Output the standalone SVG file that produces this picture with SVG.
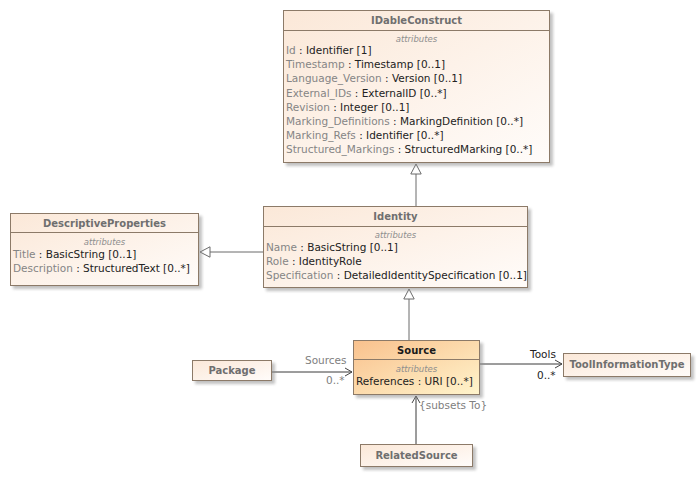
<svg xmlns="http://www.w3.org/2000/svg" width="700" height="478" viewBox="0 0 700 478">
  <defs>
    <linearGradient id="clsFill" x1="0" y1="0" x2="1" y2="1">
      <stop offset="0" stop-color="#fbe8d8"/>
      <stop offset="1" stop-color="#fffcfa"/>
    </linearGradient>
    <linearGradient id="srcFill" x1="0" y1="0" x2="1" y2="1">
      <stop offset="0" stop-color="#f9c18d"/>
      <stop offset="1" stop-color="#fff4cc"/>
    </linearGradient>
    <filter id="soft" x="-10%" y="-10%" width="120%" height="130%">
      <feGaussianBlur stdDeviation="1.4"/>
    </filter>
    <marker id="gen" viewBox="0 0 12 12" refX="11" refY="6" markerWidth="12" markerHeight="12" markerUnits="userSpaceOnUse" orient="auto">
      <path d="M1,0.8 L11,6 L1,11.2 Z" fill="#ffffff" stroke="#6b6b6b" stroke-width="1"/>
    </marker>
    <marker id="nav" viewBox="0 0 10 10" refX="9" refY="5" markerWidth="10" markerHeight="10" markerUnits="userSpaceOnUse" orient="auto">
      <path d="M2,1 L9,5 L2,9" fill="none" stroke="#444" stroke-width="1"/>
    </marker>
  </defs>
  <style>
    .shadow { fill: #8f8f8f; opacity: 0.55; filter: url(#soft); }
    .box { fill: url(#clsFill); stroke: #8c7a68; stroke-width: 1; }
    .src { fill: url(#srcFill); stroke: #8c7a68; stroke-width: 1; }
    .sep { stroke: #8c7a68; stroke-width: 1; }
    text { font-family: "DejaVu Sans", Verdana, sans-serif; }
    .title { font-size: 10px; font-weight: bold; fill: #6f6f6f; text-anchor: middle; }
    .stitle { font-size: 10px; font-weight: bold; fill: #1a1a1a; text-anchor: middle; }
    .sec { font-size: 8.5px; font-style: italic; fill: #8e8e8e; text-anchor: middle; }
    .attr { font-size: 10.5px; fill: #222; }
    .nm { fill: #858585; }
    .gline { fill: none; stroke: #6b6b6b; stroke-width: 1; }
    .aline { fill: none; stroke: #3a3a3a; stroke-width: 1; }
    .lbl { font-size: 10.5px; fill: #808080; }
    .lbld { font-size: 10.5px; fill: #222; }
  </style>

  <!-- connectors -->
  <g id="connectors">
    <line class="gline" x1="416" y1="206" x2="416" y2="164" marker-end="url(#gen)"/>
    <line class="gline" x1="263" y1="252" x2="200" y2="252" marker-end="url(#gen)"/>
    <line class="gline" x1="409" y1="340" x2="409" y2="289" marker-end="url(#gen)"/>
    <line class="aline" x1="272" y1="372" x2="352" y2="372" marker-end="url(#nav)"/>
    <text class="lbl" x="305" y="364">Sources</text>
    <text class="lbl" x="326" y="384">0..*</text>
    <line class="aline" x1="479" y1="364" x2="562" y2="364" marker-end="url(#nav)"/>
    <text class="lbld" x="530" y="358">Tools</text>
    <text class="lbld" x="537" y="379">0..*</text>
    <line class="aline" x1="416" y1="444" x2="416" y2="396" marker-end="url(#nav)"/>
    <text class="lbl" x="419" y="409">{subsets To}</text>
  </g>

  <!-- IDableConstruct -->
  <g id="IDableConstruct">
    <rect class="shadow" x="286" y="13" width="267" height="153"/>
    <rect class="box" x="283.5" y="10.5" width="266" height="152"/>
    <line class="sep" x1="283.5" y1="30.5" x2="549.5" y2="30.5"/>
    <text class="title" x="416.5" y="24">IDableConstruct</text>
    <text class="sec" x="416.5" y="42">attributes</text>
    <text class="attr" x="286" y="54"><tspan class="nm">Id</tspan> : Identifier [1]</text>
    <text class="attr" x="286" y="68.2"><tspan class="nm">Timestamp</tspan> : Timestamp [0..1]</text>
    <text class="attr" x="286" y="82.4"><tspan class="nm">Language_Version</tspan> : Version [0..1]</text>
    <text class="attr" x="286" y="96.6"><tspan class="nm">External_IDs</tspan> : ExternalID [0..*]</text>
    <text class="attr" x="286" y="110.8"><tspan class="nm">Revision</tspan> : Integer [0..1]</text>
    <text class="attr" x="286" y="125"><tspan class="nm">Marking_Definitions</tspan> : MarkingDefinition [0..*]</text>
    <text class="attr" x="286" y="139.2"><tspan class="nm">Marking_Refs</tspan> : Identifier [0..*]</text>
    <text class="attr" x="286" y="153.4"><tspan class="nm">Structured_Markings</tspan> : StructuredMarking [0..*]</text>
  </g>

  <!-- DescriptiveProperties -->
  <g id="DescriptiveProperties">
    <rect class="shadow" x="13" y="216" width="189" height="73"/>
    <rect class="box" x="10.5" y="213.5" width="188" height="72"/>
    <line class="sep" x1="10.5" y1="232.5" x2="198.5" y2="232.5"/>
    <text class="title" x="104.5" y="227">DescriptiveProperties</text>
    <text class="sec" x="104.5" y="245">attributes</text>
    <text class="attr" x="13" y="258"><tspan class="nm">Title</tspan> : BasicString [0..1]</text>
    <text class="attr" x="13" y="272"><tspan class="nm">Description</tspan> : StructuredText [0..*]</text>
  </g>

  <!-- Identity -->
  <g id="Identity">
    <rect class="shadow" x="266" y="209" width="265" height="82"/>
    <rect class="box" x="263.5" y="206.5" width="264" height="81"/>
    <line class="sep" x1="263.5" y1="226.5" x2="527.5" y2="226.5"/>
    <text class="title" x="395.5" y="220">Identity</text>
    <text class="sec" x="395.5" y="238">attributes</text>
    <text class="attr" x="266" y="251"><tspan class="nm">Name</tspan> : BasicString [0..1]</text>
    <text class="attr" x="266" y="265"><tspan class="nm">Role</tspan> : IdentityRole</text>
    <text class="attr" x="266" y="279"><tspan class="nm">Specification</tspan> : DetailedIdentitySpecification [0..1]</text>
  </g>

  <!-- Source -->
  <g id="Source">
    <rect class="shadow" x="356" y="343" width="127" height="55"/>
    <rect class="src" x="353.5" y="340.5" width="126" height="54"/>
    <line class="sep" x1="353.5" y1="359.5" x2="479.5" y2="359.5"/>
    <text class="stitle" x="416.5" y="354">Source</text>
    <text class="sec" x="416.5" y="372">attributes</text>
    <text class="attr" x="356" y="385">References : URI [0..*]</text>
  </g>

  <!-- Package -->
  <g id="Package">
    <rect class="shadow" x="195" y="363" width="80" height="21"/>
    <rect class="box" x="192.5" y="360.5" width="79" height="20"/>
    <text class="title" x="232" y="374">Package</text>
  </g>

  <!-- ToolInformationType -->
  <g id="ToolInformationType">
    <rect class="shadow" x="566" y="356" width="128" height="24"/>
    <rect class="box" x="563.5" y="353.5" width="127" height="23"/>
    <text class="title" x="627" y="368">ToolInformationType</text>
  </g>

  <!-- RelatedSource -->
  <g id="RelatedSource">
    <rect class="shadow" x="363" y="447" width="113" height="23"/>
    <rect class="box" x="360.5" y="444.5" width="112" height="22"/>
    <text class="title" x="416.5" y="459">RelatedSource</text>
  </g>
</svg>
